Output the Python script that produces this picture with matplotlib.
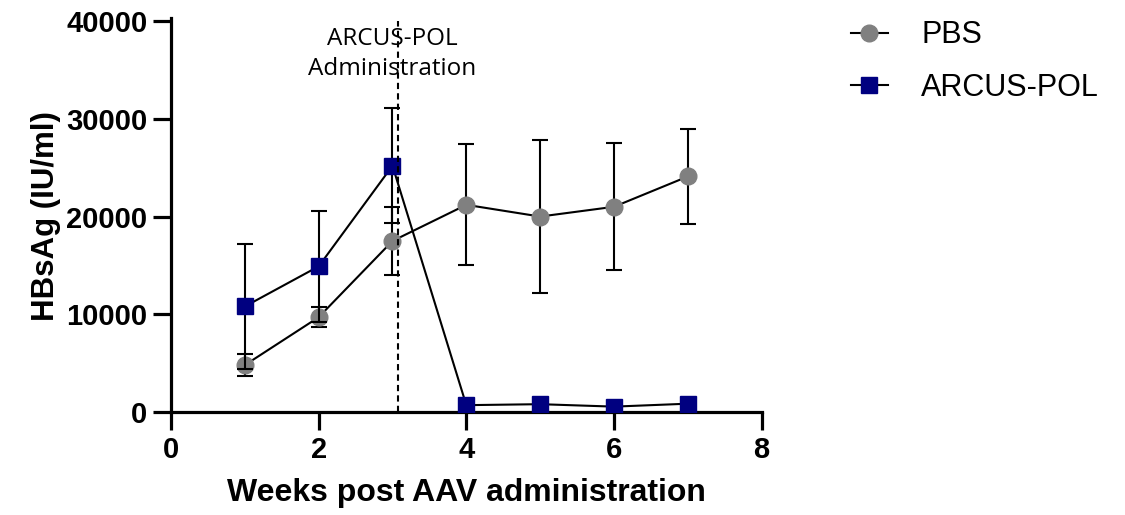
import matplotlib
matplotlib.use('Agg')
import matplotlib.pyplot as plt

# data
weeks = [1, 2, 3, 4, 5, 6, 7]
pbs_mean = [4800, 9700, 17500, 21200, 20000, 21000, 24100]
pbs_sd = [1100, 1050, 3450, 6200, 7800, 6500, 4900]
arcus_mean = [10800, 14900, 25200, 700, 800, 550, 850]
arcus_sd = [6400, 5700, 5900, 300, 300, 250, 300]
dose_week = 3.07
x_ticks = [0, 2, 4, 6, 8]
y_ticks = [0, 10000, 20000, 30000, 40000]

plt.rcParams['font.family'] = ['Liberation Sans', 'DejaVu Sans']

fig = plt.figure(figsize=(11.25, 5.15), dpi=100)
ax = fig.add_axes([0.152, 0.2, 0.525, 0.759])

ax.errorbar(weeks, pbs_mean, yerr=pbs_sd, color='black', lw=1.5, capsize=6, capthick=1.5,
            marker='o', ms=12, mfc='#808080', mec='#808080', label='PBS', zorder=3)
ax.errorbar(weeks, arcus_mean, yerr=arcus_sd, color='black', lw=1.5, capsize=6, capthick=1.5,
            marker='s', ms=12, mfc='#000080', mec='#000080', label='ARCUS-POL', zorder=4)

ax.axvline(dose_week, color='black', lw=1.5, ls=(0, (3, 2)), zorder=5)
ax.text(dose_week - 0.07, 39400, 'ARCUS-POL\nAdministration', ha='center', va='top',
        fontsize=17.5, family=['Open Sans', 'DejaVu Sans'], linespacing=1.36)

ax.set_xlim(0, 8)
ax.set_ylim(0, 40000)
ax.set_xticks(x_ticks)
ax.set_yticks(y_ticks)
for s in ['top', 'right']:
    ax.spines[s].set_visible(False)
for s in ['left', 'bottom']:
    ax.spines[s].set_linewidth(2.3)
ax.spines['left'].set_bounds(0, 40300)
ax.tick_params(length=13, width=2.3, labelsize=21, pad=4)
for lab in ax.get_xticklabels() + ax.get_yticklabels():
    lab.set_fontweight('bold')

ax.set_xlabel('Weeks post AAV administration', fontsize=23, fontweight='bold', labelpad=10)
ax.set_ylabel('HBsAg (IU/ml)', fontsize=22.5, fontweight='bold', labelpad=4)

handles, labels = ax.get_legend_handles_labels()
handles = [h[0] for h in handles]
fig.legend(handles, labels, loc='upper left', bbox_to_anchor=(0.732, 1.014), frameon=False,
           fontsize=22, handlelength=1.2, handletextpad=1.1, labelspacing=0.73)

fig.savefig('out.png', dpi=100)
